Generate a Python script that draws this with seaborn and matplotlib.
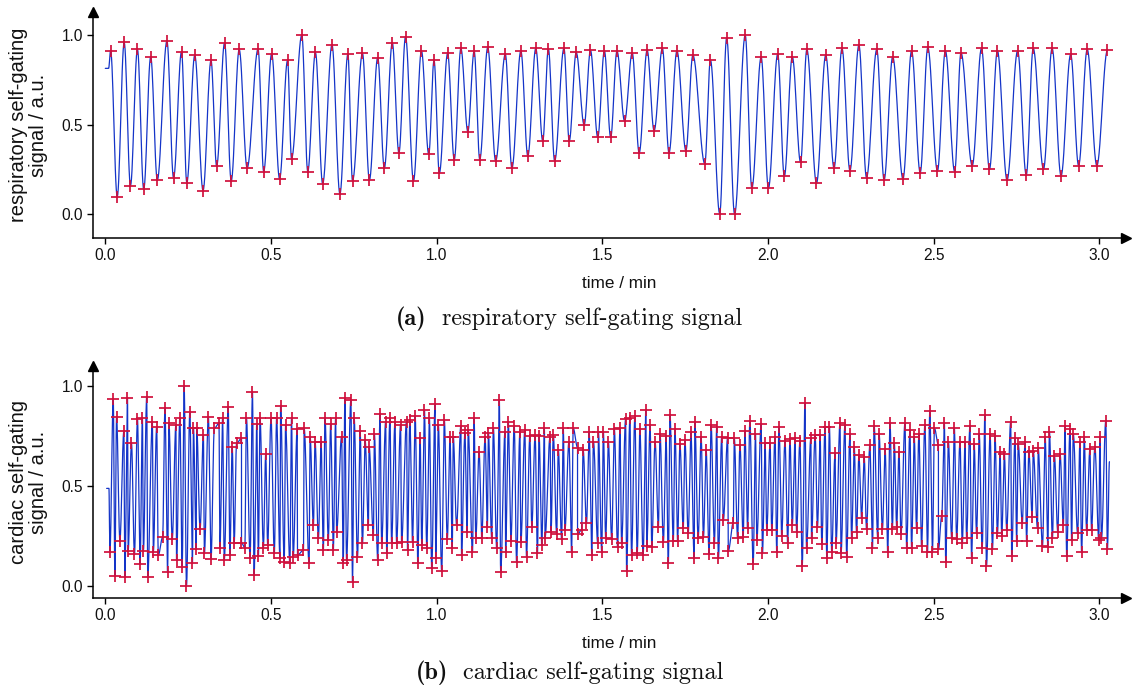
import numpy as np
import matplotlib
matplotlib.use("Agg")
import matplotlib.pyplot as plt
import seaborn as sns

# ---------------------------------------------------------------
# Respiratory self-gating signal: detected maxima / minima
# (time in min, signal in a.u.)
# ---------------------------------------------------------------
resp_peak_t = [0.016, 0.057, 0.097, 0.137, 0.186, 0.230, 0.270, 0.319, 0.360, 0.404,
               0.461, 0.502, 0.550, 0.593, 0.634, 0.684, 0.732, 0.776, 0.822, 0.866,
               0.906, 0.954, 0.992, 1.033, 1.073, 1.113, 1.154, 1.207, 1.254, 1.299,
               1.337, 1.384, 1.421, 1.464, 1.506, 1.544, 1.590, 1.635, 1.681, 1.725,
               1.773, 1.826, 1.875, 1.931, 1.979, 2.029, 2.073, 2.117, 2.174, 2.223,
               2.274, 2.328, 2.376, 2.433, 2.482, 2.535, 2.582, 2.644, 2.692, 2.753,
               2.800, 2.857, 2.913, 2.963, 3.024]
resp_peak_v = [0.912, 0.959, 0.920, 0.879, 0.967, 0.907, 0.888, 0.859, 0.957, 0.920,
               0.922, 0.896, 0.859, 1.000, 0.903, 0.946, 0.894, 0.898, 0.874, 0.957,
               0.991, 0.912, 0.859, 0.898, 0.926, 0.911, 0.931, 0.894, 0.912, 0.926,
               0.922, 0.926, 0.903, 0.915, 0.912, 0.911, 0.901, 0.916, 0.926, 0.912,
               0.888, 0.861, 0.985, 1.000, 0.877, 0.894, 0.879, 0.920, 0.888, 0.926,
               0.944, 0.920, 0.879, 0.912, 0.931, 0.912, 0.901, 0.926, 0.912, 0.912,
               0.926, 0.926, 0.892, 0.920, 0.916]
resp_trough_t = [0.036, 0.076, 0.116, 0.157, 0.206, 0.246, 0.295, 0.336, 0.380, 0.428,
                 0.478, 0.526, 0.562, 0.611, 0.656, 0.708, 0.746, 0.797, 0.842, 0.886,
                 0.930, 0.976, 1.008, 1.053, 1.094, 1.130, 1.178, 1.227, 1.275, 1.320,
                 1.356, 1.400, 1.445, 1.486, 1.525, 1.567, 1.611, 1.656, 1.701, 1.752,
                 1.809, 1.854, 1.899, 1.951, 2.001, 2.049, 2.098, 2.146, 2.199, 2.247,
                 2.297, 2.350, 2.407, 2.459, 2.511, 2.563, 2.616, 2.668, 2.721, 2.779,
                 2.831, 2.884, 2.937, 2.992]
resp_trough_v = [0.098, 0.160, 0.139, 0.191, 0.202, 0.176, 0.132, 0.268, 0.186, 0.258,
                 0.238, 0.197, 0.310, 0.238, 0.169, 0.113, 0.186, 0.191, 0.257, 0.342,
                 0.186, 0.335, 0.229, 0.305, 0.461, 0.305, 0.297, 0.257, 0.325, 0.409,
                 0.297, 0.409, 0.498, 0.429, 0.429, 0.520, 0.342, 0.466, 0.342, 0.355,
                 0.282, 0.003, 0.000, 0.145, 0.145, 0.212, 0.290, 0.173, 0.257, 0.243,
                 0.204, 0.191, 0.197, 0.232, 0.241, 0.238, 0.271, 0.251, 0.191, 0.219,
                 0.251, 0.214, 0.271, 0.271]
# leading samples before the first detected extremum
resp_head_t = [0.000, 0.010]
resp_head_v = [0.814, 0.814]
resp_tail_t = []
resp_tail_v = []

# ---------------------------------------------------------------
# Cardiac self-gating signal: detected maxima / minima
# ---------------------------------------------------------------
card_peak_t = [0.024, 0.034, 0.056, 0.067, 0.079, 0.097, 0.112, 0.125, 0.142, 0.155,
               0.180, 0.192, 0.213, 0.225, 0.238, 0.255, 0.266, 0.276, 0.296, 0.311,
               0.329, 0.343, 0.354, 0.371, 0.383, 0.396, 0.411, 0.426, 0.444, 0.457,
               0.467, 0.484,
               0.500, 0.517, 0.529, 0.544, 0.562, 0.579, 0.600, 0.618, 0.633, 0.651,
               0.663, 0.680, 0.695, 0.713, 0.723, 0.741, 0.751, 0.769, 0.784, 0.796,
               0.812, 0.829, 0.846, 0.859, 0.874, 0.891, 0.909, 0.919, 0.935, 0.950,
               0.963, 0.978, 0.995, 1.005,
               1.023, 1.040, 1.050, 1.073, 1.085, 1.095, 1.113, 1.128, 1.146, 1.156,
               1.171, 1.189, 1.206, 1.216, 1.234, 1.251, 1.266, 1.281, 1.297, 1.309,
               1.325, 1.342, 1.352, 1.367, 1.382, 1.399, 1.412, 1.425, 1.442, 1.460,
               1.473, 1.488, 1.503, 1.518,
               1.536, 1.553, 1.570, 1.583, 1.598, 1.613, 1.631, 1.644, 1.659, 1.674,
               1.692, 1.704, 1.719, 1.734, 1.749, 1.767, 1.779, 1.798, 1.813, 1.828,
               1.845, 1.860, 1.878, 1.898, 1.915, 1.930, 1.945, 1.962, 1.979, 1.991,
               2.006, 2.021, 2.033,
               2.051, 2.066, 2.081, 2.096, 2.111, 2.129, 2.142, 2.157, 2.172, 2.185,
               2.202, 2.217, 2.232, 2.247, 2.260, 2.274, 2.290, 2.307, 2.320, 2.335,
               2.353, 2.368, 2.381, 2.395, 2.413, 2.428, 2.441, 2.455, 2.473, 2.488,
               2.502, 2.514, 2.532, 2.544,
               2.562, 2.579, 2.594, 2.609, 2.622, 2.637, 2.654, 2.670, 2.685, 2.700,
               2.713, 2.732, 2.745, 2.755, 2.775, 2.787, 2.800, 2.815, 2.836, 2.849,
               2.864, 2.881, 2.896, 2.911, 2.921, 2.941, 2.954, 2.971, 2.986, 3.001,
               3.019]
card_peak_v = [0.937, 0.848, 0.776, 0.944, 0.714, 0.837, 0.840, 0.949, 0.823, 0.798,
               0.890, 0.815, 0.807, 0.843, 1.000, 0.870, 0.793, 0.790, 0.756, 0.848,
               0.790, 0.815, 0.840, 0.899, 0.698, 0.714, 0.740, 0.840, 0.974, 0.810,
               0.840, 0.659,
               0.843, 0.840, 0.904, 0.807, 0.843, 0.786, 0.790, 0.748, 0.723, 0.723,
               0.840, 0.810, 0.840, 0.748, 0.941, 0.932, 0.840, 0.776, 0.731, 0.698,
               0.760, 0.860, 0.823, 0.843, 0.823, 0.807, 0.823, 0.832, 0.853, 0.740,
               0.882, 0.840, 0.910, 0.807,
               0.832, 0.748, 0.748, 0.803, 0.765, 0.781, 0.840, 0.673, 0.748, 0.765,
               0.790, 0.932, 0.770, 0.823, 0.803, 0.770, 0.781, 0.753, 0.756, 0.753,
               0.790, 0.748, 0.756, 0.681, 0.790, 0.723, 0.790, 0.693, 0.681, 0.770,
               0.723, 0.770, 0.770, 0.723,
               0.786, 0.793, 0.835, 0.843, 0.852, 0.786, 0.882, 0.807, 0.723, 0.760,
               0.751, 0.857, 0.786, 0.709, 0.731, 0.770, 0.820, 0.748, 0.681, 0.807,
               0.798, 0.748, 0.743, 0.740, 0.706, 0.776, 0.827, 0.760, 0.810, 0.714,
               0.714, 0.748, 0.798,
               0.726, 0.736, 0.740, 0.726, 0.915, 0.740, 0.756, 0.756, 0.798, 0.798,
               0.664, 0.818, 0.807, 0.760, 0.698, 0.656, 0.647, 0.706, 0.803, 0.760,
               0.686, 0.818, 0.714, 0.673, 0.818, 0.781, 0.748, 0.760, 0.807, 0.879,
               0.790, 0.706, 0.815, 0.723,
               0.793, 0.723, 0.723, 0.803, 0.709, 0.760, 0.857, 0.760, 0.751, 0.673,
               0.661, 0.823, 0.743, 0.709, 0.723, 0.669, 0.676, 0.689, 0.748, 0.770,
               0.653, 0.661, 0.803, 0.786, 0.760, 0.723, 0.748, 0.686, 0.698, 0.748,
               0.827]
card_trough_t = [0.014, 0.029, 0.044, 0.059, 0.069, 0.088, 0.105, 0.115, 0.128, 0.145,
                 0.160, 0.173, 0.188, 0.202, 0.215, 0.232, 0.245, 0.263, 0.274, 0.286,
                 0.299, 0.319, 0.346, 0.359, 0.376, 0.389, 0.411, 0.421, 0.437, 0.449,
                 0.462, 0.477, 0.490,
                 0.510, 0.527, 0.540, 0.557, 0.567, 0.580, 0.598, 0.615, 0.628, 0.643,
                 0.658, 0.673, 0.688, 0.698, 0.718, 0.728, 0.746, 0.761, 0.776, 0.794,
                 0.809, 0.822, 0.834, 0.849, 0.864, 0.879, 0.894, 0.912, 0.927, 0.943,
                 0.955, 0.970, 0.985, 0.997,
                 1.015, 1.032, 1.047, 1.060, 1.075, 1.092, 1.108, 1.118, 1.136, 1.153,
                 1.166, 1.181, 1.193, 1.208, 1.224, 1.241, 1.254, 1.271, 1.287, 1.304,
                 1.317, 1.327, 1.345, 1.362, 1.377, 1.387, 1.407, 1.425, 1.437, 1.452,
                 1.468, 1.486, 1.498, 1.510,
                 1.528, 1.546, 1.558, 1.573, 1.588, 1.605, 1.623, 1.634, 1.649, 1.669,
                 1.684, 1.699, 1.714, 1.727, 1.744, 1.759, 1.777, 1.789, 1.805, 1.822,
                 1.838, 1.850, 1.865, 1.880, 1.895, 1.908, 1.925, 1.938, 1.955, 1.966,
                 1.983, 1.996, 2.011, 2.026,
                 2.041, 2.059, 2.073, 2.086, 2.103, 2.116, 2.131, 2.149, 2.162, 2.177,
                 2.192, 2.205, 2.220, 2.237, 2.252, 2.267, 2.282, 2.297, 2.315, 2.331,
                 2.345, 2.361, 2.375, 2.388, 2.401, 2.418, 2.433, 2.448, 2.463, 2.481,
                 2.496, 2.514, 2.524, 2.536,
                 2.554, 2.569, 2.586, 2.599, 2.614, 2.629, 2.646, 2.659, 2.677, 2.692,
                 2.705, 2.720, 2.735, 2.750, 2.767, 2.780, 2.797, 2.813, 2.828, 2.844,
                 2.858, 2.874, 2.891, 2.901, 2.916, 2.934, 2.946, 2.961, 2.976, 2.998,
                 3.006, 3.024]
card_trough_v = [0.170, 0.048, 0.225, 0.041, 0.175, 0.157, 0.106, 0.175, 0.041, 0.170,
                 0.153, 0.242, 0.066, 0.234, 0.128, 0.095, 0.000, 0.115, 0.183, 0.284,
                 0.162, 0.133, 0.187, 0.128, 0.153, 0.215, 0.215, 0.190, 0.137, 0.053,
                 0.148, 0.190, 0.204,
                 0.162, 0.137, 0.120, 0.111, 0.145, 0.153, 0.178, 0.111, 0.304, 0.237,
                 0.178, 0.229, 0.178, 0.271, 0.111, 0.128, 0.019, 0.145, 0.212, 0.304,
                 0.254, 0.128, 0.212, 0.162, 0.212, 0.212, 0.220, 0.178, 0.220, 0.111,
                 0.204, 0.187, 0.086, 0.140,
                 0.073, 0.232, 0.187, 0.303, 0.153, 0.271, 0.170, 0.237, 0.240, 0.296,
                 0.237, 0.187, 0.066, 0.170, 0.224, 0.120, 0.217, 0.145, 0.296, 0.162,
                 0.204, 0.240, 0.267, 0.257, 0.234, 0.279, 0.167, 0.257, 0.279, 0.312,
                 0.153, 0.212, 0.170, 0.237,
                 0.234, 0.192, 0.212, 0.073, 0.153, 0.162, 0.153, 0.200, 0.195, 0.296,
                 0.217, 0.115, 0.225, 0.225, 0.287, 0.262, 0.137, 0.237, 0.245, 0.158,
                 0.212, 0.137, 0.329, 0.175, 0.316, 0.237, 0.242, 0.287, 0.106, 0.229,
                 0.162, 0.279, 0.279, 0.170,
                 0.251, 0.212, 0.304, 0.271, 0.100, 0.187, 0.237, 0.296, 0.207, 0.140,
                 0.170, 0.212, 0.162, 0.145, 0.237, 0.267, 0.338, 0.284, 0.187, 0.237,
                 0.284, 0.167, 0.284, 0.296, 0.257, 0.190, 0.190, 0.287, 0.200, 0.170,
                 0.170, 0.183, 0.351, 0.116,
                 0.237, 0.234, 0.212, 0.237, 0.140, 0.262, 0.190, 0.100, 0.183, 0.262,
                 0.251, 0.279, 0.148, 0.224, 0.312, 0.224, 0.346, 0.291, 0.200, 0.195,
                 0.237, 0.271, 0.304, 0.148, 0.229, 0.262, 0.167, 0.279, 0.279, 0.229,
                 0.237, 0.183]
card_head_t = [0.004, 0.011]
card_head_v = [0.488, 0.488]
card_tail_t = [3.030]
card_tail_v = [0.622]

x_ticks = [0.0, 0.5, 1.0, 1.5, 2.0, 2.5, 3.0]
y_ticks = [0.0, 0.5, 1.0]
x_label = "time / min"
resp_ylabel = "respiratory self-gating\nsignal / a.u."
card_ylabel = "cardiac self-gating\nsignal / a.u."
resp_tag, resp_caption = "(a)", "respiratory self-gating signal"
card_tag, card_caption = "(b)", "cardiac self-gating signal"

LINE_BLUE = "#1434c8"
MARK_RED = "#d0103c"


def extrema_sequence(head_t, head_v, pk_t, pk_v, tr_t, tr_v, tail_t, tail_v):
    """Merge head samples, maxima, minima and tail samples in time order."""
    ext_t = np.concatenate([pk_t, tr_t])
    ext_v = np.concatenate([pk_v, tr_v])
    order = np.argsort(ext_t, kind="stable")
    kt = np.concatenate([head_t, ext_t[order], tail_t])
    kv = np.concatenate([head_v, ext_v[order], tail_v])
    return kt, kv


def half_cosine_trace(kt, kv, samples=14):
    """Smooth trace passing through the knots with flat tangents at each one."""
    s = np.linspace(0.0, 1.0, samples, endpoint=False)
    w = (1.0 - np.cos(np.pi * s)) / 2.0
    dt = np.diff(kt)[:, None]
    dv = np.diff(kv)[:, None]
    tt = (kt[:-1, None] + dt * s).ravel()
    vv = (kv[:-1, None] + dv * w).ravel()
    return np.append(tt, kt[-1]), np.append(vv, kv[-1])


sns.set_theme(style="ticks")
plt.rcParams["font.family"] = ["Liberation Sans", "DejaVu Sans"]
plt.rcParams["axes.unicode_minus"] = False

W, H = 1137, 690
fig = plt.figure(figsize=(W / 100, H / 100), dpi=100)


def px_axes(left, top, right, bottom):
    return fig.add_axes([left / W, 1 - bottom / H, (right - left) / W, (bottom - top) / H])


ax_r = px_axes(93, 12, 1126, 238)
ax_c = px_axes(93, 366, 1126, 598)

panels = [
    (ax_r, (resp_head_t, resp_head_v, resp_peak_t, resp_peak_v,
            resp_trough_t, resp_trough_v, resp_tail_t, resp_tail_v),
     resp_peak_t + resp_trough_t, resp_peak_v + resp_trough_v,
     (-0.1322, 1.1283), resp_ylabel),
    (ax_c, (card_head_t, card_head_v, card_peak_t, card_peak_v,
            card_trough_t, card_trough_v, card_tail_t, card_tail_v),
     card_peak_t + card_trough_t, card_peak_v + card_trough_v,
     (-0.0628, 1.103), card_ylabel),
]

for ax, seq, mk_t, mk_v, ylim, ylab in panels:
    kt, kv = extrema_sequence(*[np.asarray(a, float) for a in seq])
    tt, vv = half_cosine_trace(kt, kv)
    sns.lineplot(x=tt, y=vv, ax=ax, color=LINE_BLUE, linewidth=0.9,
                 sort=False, estimator=None, zorder=2)
    sns.scatterplot(x=mk_t, y=mk_v, ax=ax, marker="+", s=80, color=MARK_RED,
                    linewidth=1.25, zorder=3)

    ax.set_xlim(-0.0371, 3.080)
    ax.set_ylim(*ylim)
    ax.set_xticks(x_ticks)
    ax.set_xticklabels([f"{v:.1f}" for v in x_ticks])
    ax.set_yticks(y_ticks)
    ax.set_yticklabels([f"{v:.1f}" for v in y_ticks])
    sns.despine(ax=ax)
    for side in ("left", "bottom"):
        ax.spines[side].set_linewidth(1.1)
        ax.spines[side].set_color("black")
    ax.tick_params(axis="both", direction="out", length=4.5, width=1.0,
                   color="black", labelcolor="#111111", labelsize=11.2, pad=2.5)

    # arrowheads at the ends of both axes
    ax.plot(1, 0, marker=">", color="black", ms=6.5, transform=ax.transAxes,
            clip_on=False, zorder=5)
    ax.plot(0, 1, marker="^", color="black", ms=6.5, transform=ax.transAxes,
            clip_on=False, zorder=5)

    ax.set_xlabel(x_label, fontsize=12.3, color="#111111")
    ax.xaxis.set_label_coords((619 - 93) / 1033, -50 / 226 if ax is ax_r else -50 / 232)
    ax.xaxis.label.set_verticalalignment("baseline")

    ax.set_ylabel(ylab, fontsize=14.5, color="#111111", linespacing=1.12)
    ax.yaxis.label.set_verticalalignment("center")
    ax.yaxis.set_label_coords((28.5 - 93) / 1033, 0.5)

# sub-figure captions in Computer Modern
for tag, cap, tag_right, cap_left, base in [
    (resp_tag, resp_caption, 426.7, 441.7, 325),
    (card_tag, card_caption, 448.0, 463.0, 679),
]:
    fig.text(tag_right / W, 1 - base / H, tag, family="cmb10", fontsize=17.5,
             ha="right", va="baseline", color="#111111")
    fig.text(cap_left / W, 1 - base / H, cap, family="cmr10", fontsize=17.5,
             ha="left", va="baseline", color="#111111")

fig.savefig("out.png", dpi=100)
